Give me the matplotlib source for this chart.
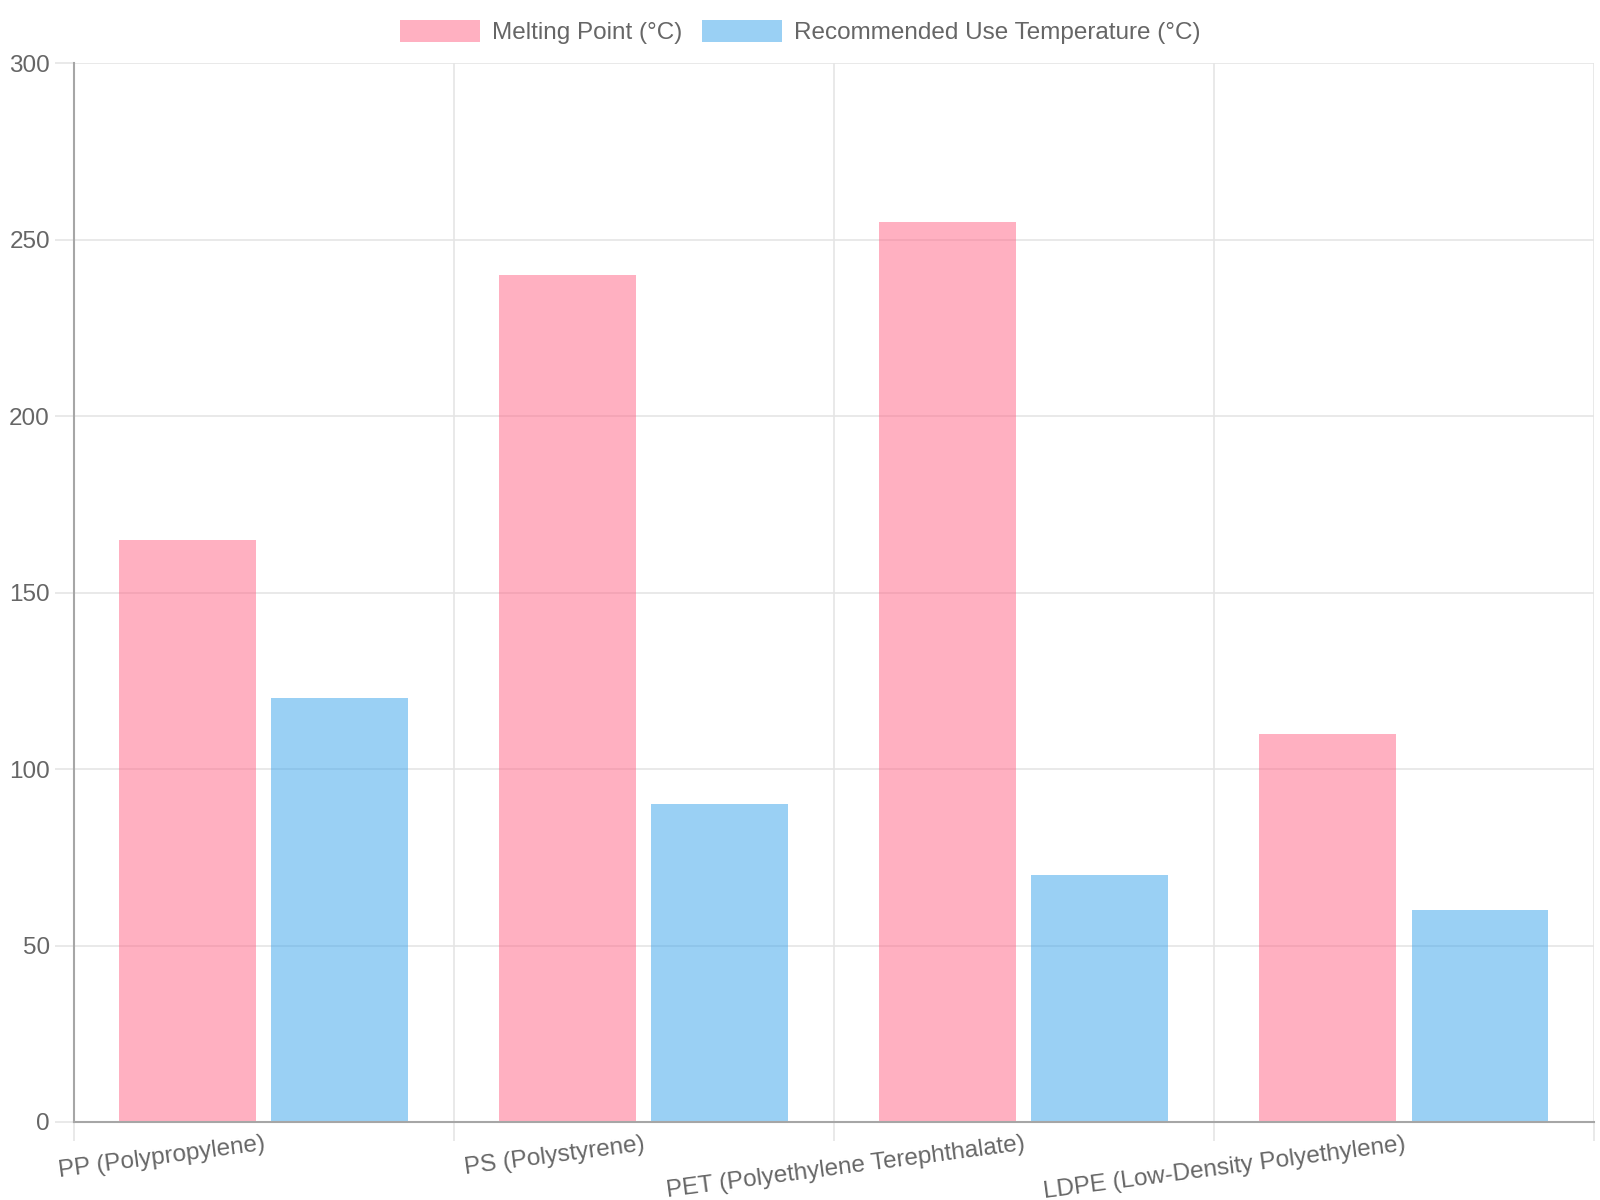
import numpy as np
import matplotlib
matplotlib.use('Agg')
from matplotlib import pyplot as plt

plt.rcParams['font.family'] = ['Liberation Sans', 'DejaVu Sans']

# data
plastics = ['PP (Polypropylene)', 'PS (Polystyrene)',
            'PET (Polyethylene Terephthalate)', 'LDPE (Low-Density Polyethylene)']
melting_point = [165, 240, 255, 110]
use_temp = [120, 90, 70, 60]
series_names = ['Melting Point (°C)', 'Recommended Use Temperature (°C)']
y_ticks = [0, 50, 100, 150, 200, 250, 300]

pink = (1.0, 99/255, 132/255, 0.5)
blue = (54/255, 162/255, 235/255, 0.5)
grid_c = '#e5e5e5'
text_c = '#666666'
fs = 17.5

fig = plt.figure(figsize=(16, 12), dpi=100)
ax = fig.add_axes([73.5/1600, 1 - 1122/1200, (1594 - 73.5)/1600, (1122 - 63)/1200])

x = np.arange(len(plastics))
w = 0.36
ax.bar(x - 0.2, melting_point, w, color=pink, label=series_names[0], zorder=2)
ax.bar(x + 0.2, use_temp, w, color=blue, label=series_names[1], zorder=2)

ax.set_xlim(-0.5, len(plastics) - 0.5)
ax.set_ylim(0, 300)

# gridlines at category boundaries, labels at centers
ax.set_xticks(np.arange(-0.5, len(plastics)), minor=False)
ax.set_xticklabels([])
ax.set_xticks(x, minor=True)
ax.set_xticklabels(plastics, minor=True, rotation=7.5, ha='right',
                   rotation_mode='anchor', fontsize=fs, color=text_c)
ax.tick_params(axis='x', which='minor', length=0, pad=8)
ax.tick_params(axis='x', which='major', length=14, color=grid_c, width=1.2)

ax.set_yticks(y_ticks)
ax.tick_params(axis='y', length=14, color=grid_c, width=1.2, pad=3,
               labelsize=fs, labelcolor=text_c)

ax.grid(True, which='major', color=grid_c, linewidth=1.2, zorder=0)
ax.set_axisbelow(True)

for s in ['top', 'right']:
    ax.spines[s].set_visible(False)
for s in ['left', 'bottom']:
    ax.spines[s].set_color('#a6a6a6')
    ax.spines[s].set_linewidth(1.5)

leg = fig.legend(loc='center', bbox_to_anchor=(0.5, 1 - 32/1200), ncol=2,
                 frameon=False, fontsize=fs, handlelength=3.3, handleheight=1.0,
                 handletextpad=0.5, columnspacing=0.8)
for t in leg.get_texts():
    t.set_color(text_c)

fig.savefig('out.png', dpi=100)
